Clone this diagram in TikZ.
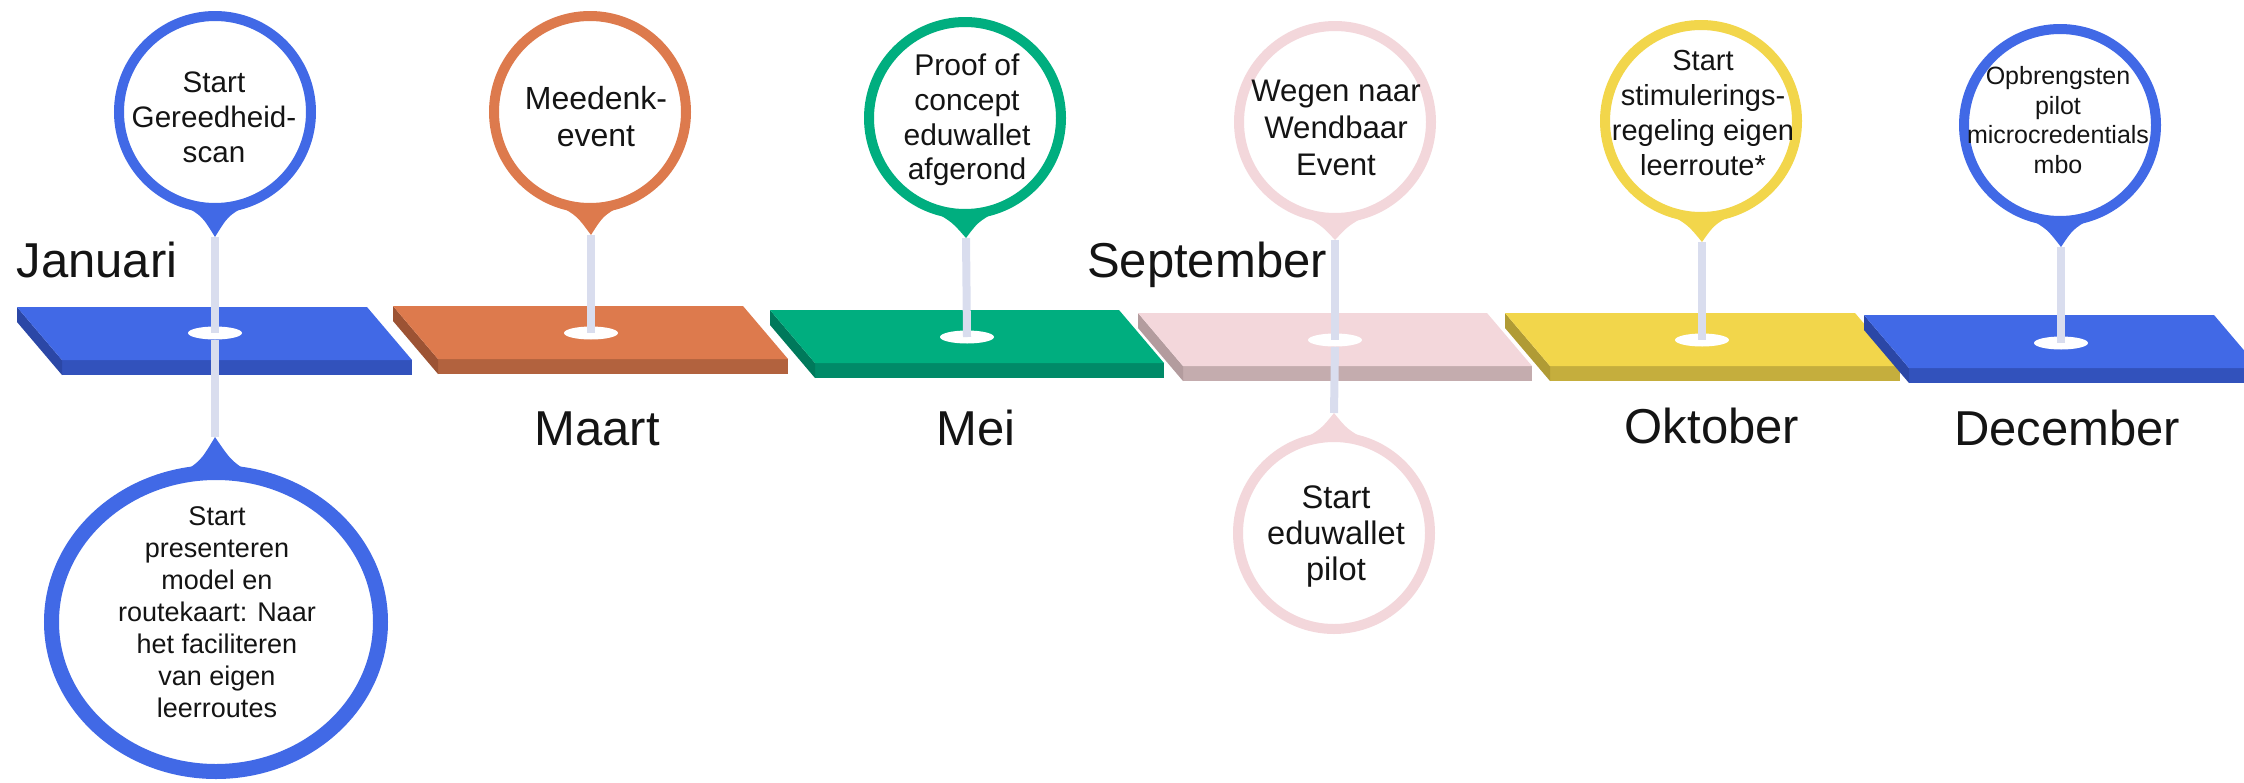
\documentclass[tikz,border=0pt]{standalone}
\usepackage{fontspec}
\setmainfont{Liberation Sans}
\usetikzlibrary{shapes.geometric,calc}
\definecolor{blueT}{HTML}{4169E6}
\definecolor{blueF}{HTML}{3252BC}
\definecolor{blueS}{HTML}{2B47A6}
\definecolor{oranT}{HTML}{DD7A4D}
\definecolor{oranF}{HTML}{B2623E}
\definecolor{oranS}{HTML}{9C5334}
\definecolor{greenT}{HTML}{00AE7F}
\definecolor{greenF}{HTML}{008A68}
\definecolor{greenS}{HTML}{00795B}
\definecolor{pinkT}{HTML}{F3D7DB}
\definecolor{pinkF}{HTML}{C4ACAE}
\definecolor{pinkS}{HTML}{B39C9E}
\definecolor{yellT}{HTML}{F2D64B}
\definecolor{yellF}{HTML}{C5AE3D}
\definecolor{yellS}{HTML}{B09B35}
\definecolor{stemC}{HTML}{D9DDEE}
\definecolor{textC}{HTML}{141414}
\newcommand\tlbar[6]{%
  \fill[#5] (#1+45,#2+53) -- (#1+45+#3,#2+53) -- (#1+45+#3,#2+68) -- (#1+45,#2+68) -- cycle;
  \fill[#6] (#1,#2) -- (#1+45,#2+53) -- (#1+45,#2+68) -- (#1,#2+15) -- cycle;
  \fill[#4] (#1,#2) -- (#1+#3,#2) -- (#1+#3+45,#2+53) -- (#1+45,#2+53) -- cycle;
}
\newcommand\pinpoint[4]{%
  \fill[#1] ($(#2.center)+(-32,#4*93)$) .. controls ($(#2.center)+(-13,#4*104)$) .. (#3)
    .. controls ($(#2.center)+(13,#4*104)$) .. ($(#2.center)+(32,#4*93)$) -- cycle;
}
\tikzset{
  bubble/.style={circle, draw=#1, line width=5pt, fill=white, minimum size=96pt, inner sep=0pt},
  hole/.style={ellipse, fill=white, minimum width=27pt, minimum height=6.5pt, inner sep=0pt},
  stem/.style={draw=stemC, line width=4pt},
  txt/.style={align=center, inner sep=0pt, text=textC},
  month/.style={font=\fontsize{24.5}{29}\selectfont, inner sep=0pt, anchor=base, text=textC},
}
\begin{document}
\begin{tikzpicture}[x=0.5pt,y=-0.5pt]
\useasboundingbox (0,0) rectangle (2244,782);
\clip (0,0) rectangle (2244,782);
% bars
\tlbar{17}{307}{350}{blueT}{blueF}{blueS}
\tlbar{393}{306}{350}{oranT}{oranF}{oranS}
\tlbar{770}{310}{349}{greenT}{greenF}{greenS}
\tlbar{1138}{313}{349}{pinkT}{pinkF}{pinkS}
\tlbar{1505}{313}{350}{yellT}{yellF}{yellS}
\tlbar{1864}{315}{350}{blueT}{blueF}{blueS}
% tips
\coordinate (p1) at (215,237);
\coordinate (p2) at (591,235);
\coordinate (p3) at (966,238);
\coordinate (p4) at (1335,240);
\coordinate (p5) at (1702,242);
\coordinate (p6) at (2061,247);
\coordinate (q1) at (215,437);
\coordinate (q4) at (1334,413);
% holes
\node[hole] (h1) at (215,333) {};
\node[hole] (h2) at (591,333) {};
\node[hole] (h3) at (967,337) {};
\node[hole] (h4) at (1335,340) {};
\node[hole] (h5) at (1702,340) {};
\node[hole] (h6) at (2061,343) {};
% lower stems
\draw[stem] (h1.south) -- (q1);
\draw[stem] (h4.south) -- (q4);
% upper stems
\draw[stem] (p1) -- (h1.center);
\draw[stem] (p2) -- (h2.center);
\draw[stem] (p3) -- (h3.center);
\draw[stem] (p4) -- (h4.center);
\draw[stem] (p5) -- (h5.center);
\draw[stem] (p6) -- (h6.center);
% bubbles
\node[bubble=blueT] (c1) at (215,112) {};
\node[bubble=oranT] (c2) at (590,112) {};
\node[bubble=greenT] (c3) at (965,118) {};
\node[bubble=pinkT] (c4) at (1335,122) {};
\node[bubble=yellT] (c5) at (1701,121) {};
\node[bubble=blueT] (c6) at (2060,125) {};
\node[bubble=pinkT] (c4b) at (1334,533) {};
\node[ellipse, draw=blueT, line width=7.5pt, fill=white, minimum width=164.5pt, minimum height=149.5pt, inner sep=0pt] (c1b) at (216,622) {};
% pointers
\pinpoint{blueT}{c1}{p1}{1}
\pinpoint{oranT}{c2}{p2}{1}
\pinpoint{greenT}{c3}{p3}{1}
\pinpoint{pinkT}{c4}{p4}{1}
\pinpoint{yellT}{c5}{p5}{1}
\pinpoint{blueT}{c6}{p6}{1}
\pinpoint{pinkT}{c4b}{q4}{-1}
\fill[blueT] ($(c1b.center)+(-40,-146)$) .. controls ($(c1b.center)+(-16,-160)$) .. (q1)
  .. controls ($(c1b.center)+(16,-160)$) .. ($(c1b.center)+(40,-146)$) -- cycle;
% bubble texts
\node[txt, font={\fontsize{14.8}{17.5}\selectfont}] (t1) at (214,117) {Start\\Gereedheid-\\scan};
\node[txt, font={\fontsize{13.5}{16}\selectfont}] (t1b) at (217,612) {Start\\presenteren\\model en\\routekaart: Naar\\het faciliteren\\van eigen\\leerroutes};
\node[txt, font={\fontsize{16}{18.5}\selectfont}] (t2) at (596,117) {Meedenk-\\event};
\node[txt, font={\fontsize{15}{17.3}\selectfont}] (t3) at (967,120) {Proof of\\concept\\eduwallet\\afgerond};
\node[txt, font={\fontsize{15.6}{18.5}\selectfont}] (t4) at (1336,128) {Wegen naar\\Wendbaar\\Event};
\node[txt, font={\fontsize{16.3}{18}\selectfont}] (t4b) at (1336,536) {Start\\eduwallet\\pilot};
\node[txt, font={\fontsize{14.5}{17.5}\selectfont}] (t5) at (1703,113) {Start\\stimulerings-\\regeling eigen\\leerroute*};
\node[txt, font={\fontsize{12.5}{14.8}\selectfont}] (t6) at (2058,120) {Opbrengsten\\pilot\\microcredentials\\mbo};
% months
\node[month] (m1) at (97,277) {Januari};
\node[month] (m2) at (597,445) {Maart};
\node[month] (m3) at (976,445) {Mei};
\node[month] (m4) at (1207,277) {September};
\node[month] (m5) at (1712,443) {Oktober};
\node[month] (m6) at (2067,445) {December};
\end{tikzpicture}
\end{document}
